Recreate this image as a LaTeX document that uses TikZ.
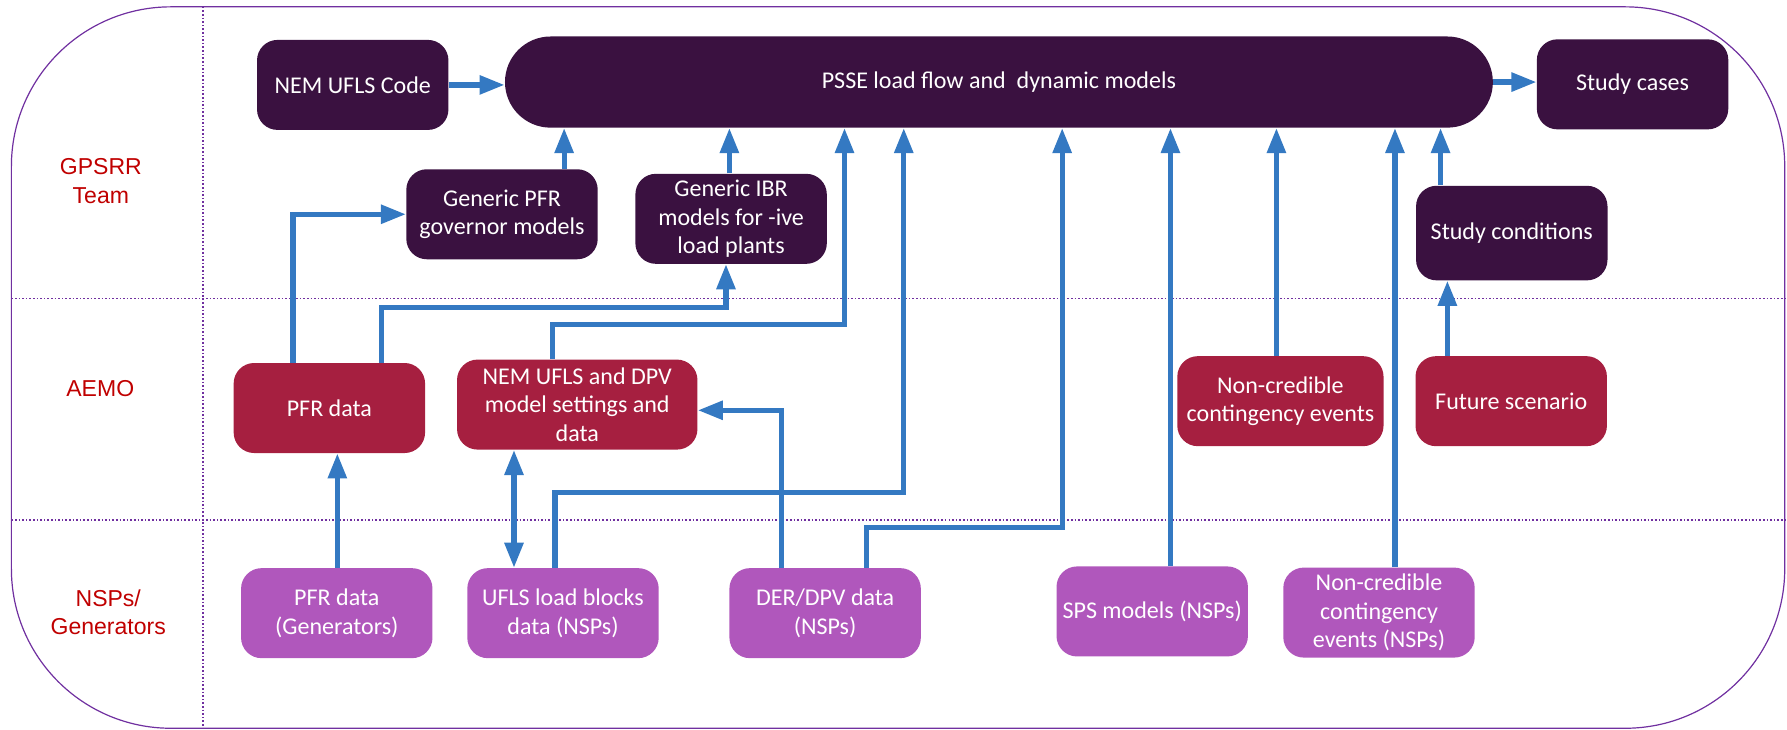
\documentclass[tikz,border=0pt]{standalone}
\usepackage{fontspec}
\setmainfont{Carlito}
\newfontfamily\lanefont{Liberation Sans}
\usepackage{xcolor}
\usetikzlibrary{arrows.meta,positioning}

\definecolor{teamfill}{HTML}{3A1140}
\definecolor{aemofill}{HTML}{A61F40}
\definecolor{nspfill}{HTML}{B057BC}
\definecolor{flowblue}{HTML}{3479C2}
\definecolor{laneline}{HTML}{7030A0}
\definecolor{lanered}{HTML}{C00000}

\begin{document}
\begin{tikzpicture}[
        x=0.02cm, y=-0.02cm,
        flow/.style={draw=flowblue, line width=2.6pt},
        >={Triangle[length=0.44cm, width=0.32cm]}]
        \tikzset{
                basic/.style = {rounded corners=0.36cm, align=center, text=white, inner sep=1pt,
                                font=\fontsize{12}{14.2}\selectfont, minimum width=3.36cm, minimum height=1.58cm},
                team/.style  = {basic, fill=teamfill},
                aemo/.style  = {basic, fill=aemofill},
                nsp/.style   = {basic, fill=nspfill},
                lane/.style  = {align=center, text=lanered, font=\lanefont\fontsize{11.5}{14.2}\selectfont},
                sep/.style   = {draw=laneline, densely dotted, line width=0.8pt}
        }
        \useasboundingbox (0,0) rectangle (1568,640);

        % frame and swim lanes
        \draw[laneline, line width=0.6pt, rounded corners=2.8cm] (10,6) rectangle (1566,639);
        \draw[sep] (178,6) -- (178,640);
        \draw[sep] (10,262) -- (1568,262);
        \draw[sep] (10,456) -- (1568,456);

        \node[lane] (l1) at (88.5,159) {GPSRR\\Team};
        \node[lane] (l2) at (88,341) {AEMO};
        \node[lane] (l3) at (95,537) {NSPs/\\Generators};

        % GPSRR team row
        \node[team] (code) at (309.5,74.5) {NEM UFLS Code};
        \node[team, rounded corners=0.8cm, minimum width=17.34cm, minimum height=1.6cm] (psse) at (876.5,72)
                {PSSE load flow and \ dynamic models};
        \node[team] (cases) at (1432.5,74) {Study cases};
        \node[team] (gpfr) at (440.5,188) {Generic PFR\\governor models};
        \node[team] (gibr) at (641.5,192) {Generic IBR\\models for -ive\\load plants};
        \node[team, minimum height=1.66cm] (cond) at (1326.5,204.5) {Study conditions};

        % AEMO row
        \node[aemo] (pfra) at (289,358) {PFR data};
        \node[aemo, minimum width=4.22cm] (ufla) at (506.5,355) {NEM UFLS and DPV\\model settings and\\data};
        \node[aemo, minimum width=3.62cm] (nca) at (1123.5,352) {Non-credible\\contingency events};
        \node[aemo] (fut) at (1326,352) {Future scenario};

        % NSPs / generators row
        \node[nsp] (pfrg) at (295.5,538) {PFR data\\(Generators)};
        \node[nsp] (ufln) at (494,538) {UFLS load blocks\\data (NSPs)};
        \node[nsp] (der) at (724,538) {DER/DPV data\\(NSPs)};
        \node[nsp] (sps) at (1011,536.5) {SPS models (NSPs)};
        \node[nsp] (ncn) at (1210,537.5) {Non-credible\\contingency\\events (NSPs)};

        % into and out of the PSSE models
        \draw[flow, ->] (code.east) -- (code.east -| psse.west);
        \draw[flow, ->] (psse.east) -- (psse.east -| cases.west);
        \foreach \src/\xx in {gpfr/495, gibr/640, sps/1027, nca/1120, ncn/1224, cond/1264}
                \draw[flow, ->] (\src.north -| \xx,0) -- (psse.south -| \xx,0);

        % elbow connectors
        \draw[flow, ->] (pfra.north -| 257,0) |- (gpfr.west);
        \draw[flow, ->] (pfra.north -| 335,0) |- (637,270) -- (gibr.south -| 637,0);
        \draw[flow, ->] (ufla.north -| 485,0) |- (741,285) -- (psse.south -| 741,0);
        \draw[flow, ->] (ufln.north -| 487,0) |- (793,432) -- (psse.south -| 793,0);
        \draw[flow, ->] (der.north -| 686,0) |- (ufla.east |- 0,360);
        \draw[flow, ->] (der.north -| 760,0) |- (932,463) -- (psse.south -| 932,0);

        % straight links between rows
        \draw[flow, ->] (pfrg.north -| 296,0) -- (pfra.south -| 296,0);
        \draw[flow, <->] (ufln.north -| 451,0) -- (ufla.south -| 451,0);
        \draw[flow, ->] (fut.north -| 1270,0) -- (cond.south -| 1270,0);
\end{tikzpicture}
\end{document}
